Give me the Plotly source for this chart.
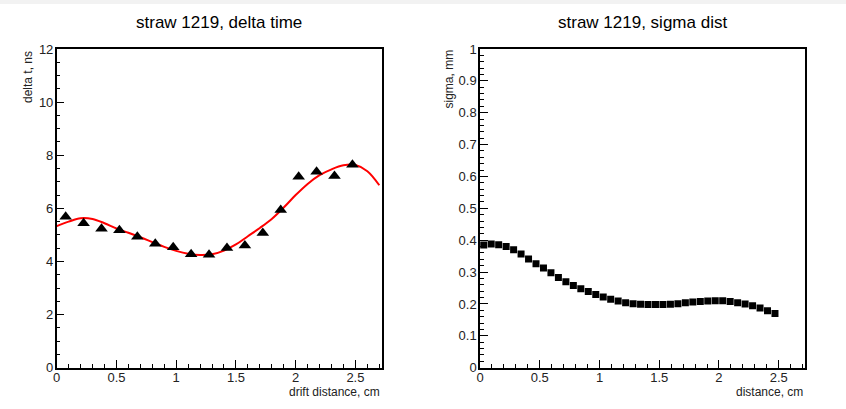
import plotly.graph_objects as go

# ---- data ----
dt_x = [0.075, 0.225, 0.375, 0.525, 0.675, 0.825, 0.975, 1.125, 1.275,
        1.425, 1.575, 1.725, 1.875, 2.025, 2.175, 2.325, 2.475]
dt_y = [5.68, 5.44, 5.23, 5.18, 4.93, 4.67, 4.54, 4.27, 4.25,
        4.51, 4.60, 5.07, 5.94, 7.19, 7.38, 7.22, 7.64]

fit_x = [0.0, 0.1, 0.2, 0.3, 0.4, 0.5, 0.6, 0.7, 0.8, 0.9, 1.0, 1.1, 1.2, 1.3,
         1.4, 1.5, 1.6, 1.7, 1.8, 1.9, 2.0, 2.1, 2.2, 2.3, 2.4, 2.5, 2.6, 2.7]
fit_y = [5.33, 5.50, 5.63, 5.60, 5.44, 5.24, 5.08, 4.91, 4.73, 4.55, 4.40, 4.29,
         4.24, 4.27, 4.41, 4.64, 4.95, 5.26, 5.60, 6.03, 6.50, 6.92, 7.25, 7.47,
         7.62, 7.63, 7.40, 6.87]

sig_x = [0.03125, 0.09375, 0.15625, 0.21875, 0.28125, 0.34375, 0.40625, 0.46875,
         0.53125, 0.59375, 0.65625, 0.71875, 0.78125, 0.84375, 0.90625, 0.96875,
         1.03125, 1.09375, 1.15625, 1.21875, 1.28125, 1.34375, 1.40625, 1.46875,
         1.53125, 1.59375, 1.65625, 1.71875, 1.78125, 1.84375, 1.90625, 1.96875,
         2.03125, 2.09375, 2.15625, 2.21875, 2.28125, 2.34375, 2.40625, 2.46875]
sig_y = [0.385, 0.388, 0.386, 0.380, 0.370, 0.357, 0.341, 0.326, 0.313, 0.298,
         0.283, 0.270, 0.258, 0.248, 0.239, 0.230, 0.222, 0.215, 0.209, 0.204,
         0.201, 0.199, 0.198, 0.198, 0.198, 0.199, 0.201, 0.204, 0.206, 0.208,
         0.209, 0.210, 0.210, 0.208, 0.204, 0.200, 0.194, 0.187, 0.179, 0.170]

titles = ["straw 1219, delta time", "straw 1219, sigma dist"]
x_titles = ["drift distance, cm", "distance, cm"]
y_titles = ["delta t, ns", "sigma, mm"]

W, H = 846, 409
FONT = "Liberation Sans, Arial, sans-serif"

def px(x):
    return x / W

def py(y):
    return 1 - y / H

fig = go.Figure()
fig.add_trace(go.Scatter(x=fit_x, y=fit_y, mode="lines",
                         line=dict(color="#ff0000", width=2, shape="spline"),
                         xaxis="x", yaxis="y", showlegend=False, hoverinfo="skip"))
fig.add_trace(go.Scatter(x=dt_x, y=dt_y, mode="markers",
                         marker=dict(symbol="triangle-up", size=11, color="black"),
                         xaxis="x", yaxis="y", showlegend=False))
fig.add_trace(go.Scatter(x=sig_x, y=sig_y, mode="markers",
                         marker=dict(symbol="square", size=7, color="black"),
                         xaxis="x2", yaxis="y2", showlegend=False))

def axis(domain, rng, dtick, minor_dtick, anchor, standoff):
    return dict(domain=domain, range=rng, dtick=dtick, tick0=0,
                ticks="inside", ticklen=8, tickwidth=1, tickcolor="black",
                minor=dict(dtick=minor_dtick, tick0=0, ticks="inside", ticklen=4,
                           tickwidth=1, tickcolor="black", showgrid=False),
                showline=True, linecolor="black", linewidth=1.5, mirror=True,
                showgrid=False, zeroline=False, anchor=anchor, automargin=False,
                ticklabelstandoff=standoff,
                tickfont=dict(family=FONT, size=13, color="#222"))

yd = [py(367.7), py(49)]
fig.update_layout(
    width=W, height=H, autosize=False, showlegend=False,
    margin=dict(l=0, r=0, t=0, b=0, pad=0),
    paper_bgcolor="white", plot_bgcolor="white",
    xaxis=axis([px(56.7), px(381.7)], [0, 2.72], 0.5, 0.1, "y", -3),
    yaxis=axis(yd, [0, 12], 2, 0.5, "x", -1),
    xaxis2=axis([px(480), px(805)], [0, 2.72], 0.5, 0.1, "y2", -3),
    yaxis2=axis(yd, [0, 1], 0.1, 0.02, "x2", -1),
    shapes=[dict(type="rect", xref="paper", yref="paper", x0=0, x1=1,
                 y0=py(4), y1=1, fillcolor="#f2f2f2", line=dict(width=0), layer="below")],
)

ann = []
ann.append(dict(text=titles[0], x=px(219), y=py(23), xanchor="center", yanchor="middle",
                font=dict(family=FONT, size=17, color="black")))
ann.append(dict(text=titles[1], x=px(642.5), y=py(23), xanchor="center", yanchor="middle",
                font=dict(family=FONT, size=17, color="black")))
ann.append(dict(text=x_titles[0], x=px(382), y=py(392), xanchor="right", yanchor="middle",
                font=dict(family=FONT, size=12, color="#222")))
ann.append(dict(text=x_titles[1], x=px(805), y=py(392), xanchor="right", yanchor="middle",
                font=dict(family=FONT, size=12, color="#222")))
ann.append(dict(text=y_titles[0], x=px(28), y=py(49), xanchor="center", yanchor="top",
                textangle=-90, font=dict(family=FONT, size=12, color="#222")))
ann.append(dict(text=y_titles[1], x=px(448), y=py(48), xanchor="center", yanchor="top",
                textangle=-90, font=dict(family=FONT, size=12, color="#222")))
for a in ann:
    a.update(xref="paper", yref="paper", showarrow=False)
fig.update_layout(annotations=ann)

post = """
var de = document.documentElement, b = document.body;
de.style.margin = '0px'; de.style.padding = '0px';
de.style.width = '846px'; de.style.height = '409px'; de.style.overflow = 'hidden';
b.style.margin = '0px'; b.style.padding = '0px';
b.style.width = '846px'; b.style.height = '409px'; b.style.overflow = 'hidden';
b.style.contain = 'strict';
document.querySelectorAll('.plotly-graph-div, .svg-container').forEach(function(d){
  d.style.overflow = 'hidden';
});
"""

fig.write_html("out.html", config={"displayModeBar": False}, post_script=post)
